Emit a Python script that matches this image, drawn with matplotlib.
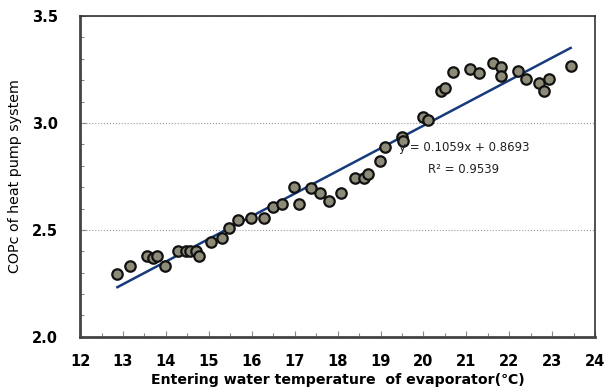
import matplotlib
matplotlib.use('Agg')
from matplotlib import pyplot as plt
from matplotlib.ticker import MultipleLocator

# entering water temperature (deg C) and COPc
temp = [12.87, 13.17, 13.56, 13.69, 13.79, 13.99, 14.29, 14.48, 14.56, 14.69,
        14.78, 15.06, 15.30, 15.48, 15.68, 15.99, 16.28, 16.49, 16.70, 16.99,
        17.10, 17.39, 17.58, 17.79, 18.07, 18.40, 18.61, 18.71, 18.99, 19.10,
        19.49, 19.52, 20.00, 20.11, 20.41, 20.50, 20.69, 21.09, 21.30, 21.63,
        21.81, 21.81, 22.21, 22.40, 22.70, 22.82, 22.93, 23.43]
cop = [2.293, 2.329, 2.379, 2.368, 2.380, 2.329, 2.402, 2.402, 2.402, 2.402,
       2.379, 2.445, 2.461, 2.511, 2.547, 2.557, 2.557, 2.609, 2.621, 2.699,
       2.621, 2.698, 2.672, 2.636, 2.672, 2.744, 2.744, 2.760, 2.822, 2.889,
       2.936, 2.917, 3.027, 3.014, 3.150, 3.164, 3.238, 3.252, 3.234, 3.280,
       3.262, 3.220, 3.243, 3.206, 3.187, 3.150, 3.206, 3.266]

# linear trend line as printed on the chart
slope = 0.1059
intercept = 0.8693
r2 = 0.9539

fig = plt.figure(figsize=(6.11, 3.89), dpi=100)
ax = fig.add_axes([0.131, 0.134, 0.843, 0.825])

x_fit = [min(temp), max(temp)]
y_fit = [slope * v + intercept for v in x_fit]
ax.plot(x_fit, y_fit, color='#163a7c', lw=1.8, zorder=2)

ax.plot(temp, cop, 'o', ms=7.5, mfc='#8e8b78', mec='#111111', mew=1.6, zorder=3)

ax.text(19.43, 2.883, f'y = {slope}x + {intercept}', fontsize=8.5,
        color='#222222', va='center', zorder=4)
ax.text(20.1, 2.78, f'R\u00b2 = {r2}', fontsize=8.5, color='#222222',
        va='center', zorder=4)

ax.set_xlim(12, 24)
ax.set_ylim(2.0, 3.5)
ax.xaxis.set_major_locator(MultipleLocator(1))
ax.xaxis.set_minor_locator(MultipleLocator(0.5))
ax.yaxis.set_minor_locator(MultipleLocator(0.1))
ax.set_yticks([2.0, 2.5, 3.0, 3.5])
ax.set_yticklabels(['2.0', '2.5', '3.0', '3.5'])

ax.grid(axis='y', which='major', ls=':', color='#999999', lw=0.8)
ax.tick_params(which='both', direction='in', color='#888888')
ax.tick_params(which='major', length=4, width=0.8)
ax.tick_params(which='minor', length=3, width=0.8)
ax.tick_params(axis='x', which='major', pad=12, labelsize=10.5)
ax.tick_params(axis='y', which='major', pad=16, labelsize=10.5)
for lab in ax.get_xticklabels() + ax.get_yticklabels():
    lab.set_fontweight('bold')

for side in ['left', 'bottom']:
    ax.spines[side].set_color('#444444')
    ax.spines[side].set_linewidth(2)
for side in ['top', 'right']:
    ax.spines[side].set_color('#333333')
    ax.spines[side].set_linewidth(1.2)

ax.set_xlabel('Entering water temperature  of evaporator(\u2103)', fontsize=10.2,
              fontweight='bold', labelpad=3)
ax.set_ylabel('COPc of heat pump system', fontsize=10.3, labelpad=7)

fig.savefig('out.png', dpi=100)
